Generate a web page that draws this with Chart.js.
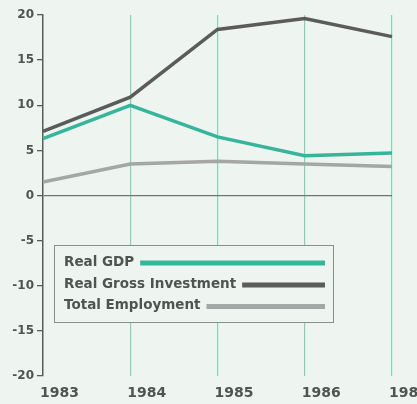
<!DOCTYPE html>
<html><head><meta charset="utf-8">
<script src="https://cdn.jsdelivr.net/npm/chart.js@4"></script>
<style>
html,body{margin:0;padding:0;background:#eef4ef;}
#wrap{width:417px;height:404px;position:relative;}
</style></head>
<body><div id="wrap"><canvas id="c" width="417" height="404"></canvas></div>
<script>
const years = ['1983','1984','1985','1986','1987'];
const realGDP = [6.3, 10.0, 6.5, 4.4, 4.7];
const realGrossInvestment = [7.1, 10.9, 18.4, 19.6, 17.6];
const totalEmployment = [1.5, 3.5, 3.8, 3.5, 3.2];
const yTicks = [-20, -15, -10, -5, 0, 5, 10, 15, 20];

const FONT = 'DejaVu Sans';
const TXT = '#4e5450';

const legendPlugin = {
  id: 'boxLegend',
  afterDraw(chart) {
    const ctx = chart.ctx;
    const box = {x: 54.5, y: 245.5, w: 279, h: 77};
    ctx.save();
    ctx.fillStyle = '#eef4ef';
    ctx.fillRect(box.x, box.y, box.w, box.h);
    ctx.strokeStyle = '#8a8f8c';
    ctx.lineWidth = 1;
    ctx.strokeRect(box.x, box.y, box.w, box.h);
    ctx.font = 'bold 13.5px "' + FONT + '"';
    ctx.textBaseline = 'middle';
    ctx.textAlign = 'left';
    const rows = [262, 284, 305.5];
    chart.data.datasets.forEach((ds, i) => {
      const y = rows[i];
      ctx.fillStyle = TXT;
      ctx.fillText(ds.label, 64, y);
      const tw = ctx.measureText(ds.label).width;
      ctx.strokeStyle = ds.borderColor;
      ctx.lineWidth = 5;
      ctx.beginPath();
      ctx.moveTo(64 + tw + 6, y + 1);
      ctx.lineTo(325, y + 1);
      ctx.stroke();
    });
    ctx.restore();
  }
};

new Chart(document.getElementById('c'), {
  type: 'line',
  data: {
    labels: years,
    datasets: [
      {label: 'Real GDP', data: realGDP, borderColor: '#35b59a', borderWidth: 3.5, pointRadius: 0, tension: 0},
      {label: 'Real Gross Investment', data: realGrossInvestment, borderColor: '#5a5c5b', borderWidth: 3.5, pointRadius: 0, tension: 0},
      {label: 'Total Employment', data: totalEmployment, borderColor: '#a3a7a5', borderWidth: 3.5, pointRadius: 0, tension: 0}
    ]
  },
  options: {
    responsive: false,
    animation: false,
    layout: {padding: {top: 15, right: 25, left: 0, bottom: 0}},
    plugins: {legend: {display: false}, tooltip: {enabled: false}},
    scales: {
      x: {
        offset: false,
        grid: {
          color: (c) => c.index === 0 ? 'transparent' : '#7fd4bb',
          lineWidth: 1.2,
          drawTicks: false
        },
        border: {display: false},
        ticks: {
          align: 'start',
          labelOffset: -3,
          padding: 9,
          color: TXT,
          font: {family: FONT, weight: 'bold', size: 14}
        },
        afterFit(s) { s.height = 28; s.paddingLeft = 0; s.paddingRight = 0; }
      },
      y: {
        min: -20, max: 20,
        afterBuildTicks(s) { s.ticks = yTicks.map(v => ({value: v})); },
        grid: {
          color: (c) => c.tick && c.tick.value === 0 ? '#6f7471' : 'transparent',
          lineWidth: 1.3,
          tickColor: '#5a5c5b',
          tickLength: 6
        },
        border: {display: true, color: '#5a5c5b', width: 1.5},
        ticks: {
          padding: 3,
          color: TXT,
          font: {family: FONT, weight: 'bold', size: 12}
        },
        afterFit(s) { s.width = 43; }
      }
    }
  },
  plugins: [legendPlugin]
});
</script>
</body></html>
